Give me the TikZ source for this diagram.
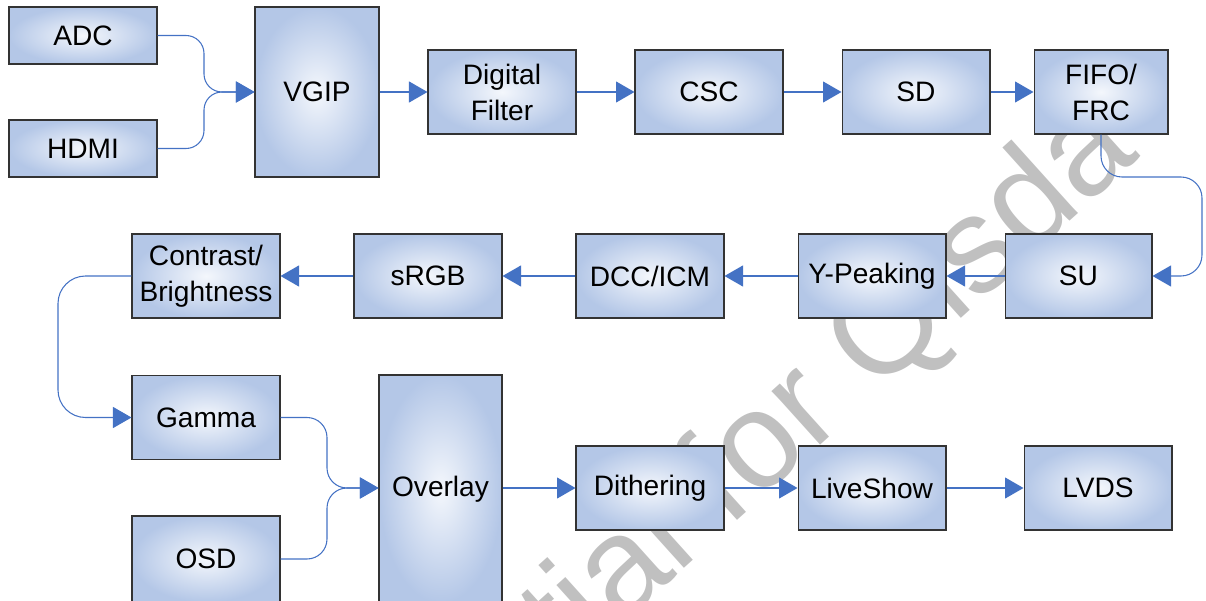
\documentclass[tikz,border=0pt]{standalone}
\usepackage{fontspec}
\setmainfont{Liberation Sans}
\usetikzlibrary{arrows.meta}
\definecolor{boxedge}{RGB}{180,199,231}
\definecolor{boxmid}{RGB}{244,247,252}
\definecolor{linkblue}{RGB}{68,114,196}
\definecolor{stampgray}{RGB}{192,192,192}
\tikzset{
  blk/.style={draw=black!80, line width=0.6pt, shading=radial, inner color=boxmid, outer color=boxedge,
    minimum width=2.96cm, minimum height=1.68cm, inner sep=0pt, align=center,
    font=\fontsize{16}{20.5}\selectfont},
  link/.style={draw=linkblue, line width=0.6pt, -{Triangle[length=0.37cm,width=0.42cm]}},
  stamp/.style={text=stampgray, rotate=42, inner sep=0pt, font=\fontsize{78}{78}\selectfont}
}

\begin{document}
\begin{tikzpicture}[x=0.02cm, y=-0.02cm]
			%%%%% START %%%%%
			\useasboundingbox (0,0) rectangle (1206,601);
			
			\begin{scope}
				\clip (0,0) rectangle (1206,601);
				\node[stamp, anchor=base east] (stamp) at (1142,156) {tial for Qisda};
			\end{scope}
			
			\node[blk, minimum height=1.14cm] (adc) at (83,35.5) {ADC};
			\node[blk, minimum height=1.14cm] (hdmi) at (83,148.5) {HDMI};
			\node[blk, minimum width=2.48cm, minimum height=3.4cm] (vgip) at (317,92) {VGIP};
			\node[blk] (dfilter) at (502,92) {Digital\\Filter};
			\node[blk] (csc) at (709,92) {CSC};
			\node[blk] (sd) at (916,92) {SD};
			\node[blk, minimum width=2.68cm] (fifo) at (1101,92) {FIFO/\\FRC};
			
			\node[blk] (contrast) at (206,276) {Contrast/\\Brightness};
			\node[blk] (srgb) at (428,276) {sRGB};
			\node[blk] (dcc) at (650,276) {DCC/ICM};
			\node[blk] (ypeak) at (872,276) {Y-Peaking};
			\node[blk, minimum width=2.94cm] (su) at (1078.5,276) {SU};
			
			\node[blk] (gamma) at (206,417.5) {Gamma};
			\node[blk, minimum height=1.72cm] (osd) at (206,559) {OSD};
			\node[blk, minimum width=2.46cm, minimum height=4.56cm] (overlay) at (440.5,489) {Overlay};
			\node[blk] (dither) at (650,488) {Dithering};
			\node[blk] (liveshow) at (872,488) {LiveShow};
			\node[blk] (lvds) at (1098,488) {LVDS};
			
			\coordinate (jin) at (204,92);
			\coordinate (fturn) at (1202,177);
			\coordinate (cturn) at (58,346);
			\coordinate (jmix) at (327,488);
			
			\draw[link, rounded corners=0.36cm] (adc.east) -| (jin) -- (vgip.west);
			\draw[link, rounded corners=0.36cm] (hdmi.east) -| (jin) -- (vgip.west);
			\draw[link] (vgip) -- (dfilter);
			\draw[link] (dfilter) -- (csc);
			\draw[link] (csc) -- (sd);
			\draw[link] (sd) -- (fifo);
			\draw[link, rounded corners=0.42cm] (fifo.south) |- (fturn) |- (su.east);
			
			\draw[link] (su) -- (ypeak);
			\draw[link] (ypeak) -- (dcc);
			\draw[link] (dcc) -- (srgb);
			\draw[link] (srgb) -- (contrast);
			\draw[link, rounded corners=0.55cm] (contrast.west) -| (cturn) |- (gamma.west);
			
			\draw[link, rounded corners=0.4cm] (gamma.east) -| (jmix) -- (overlay.west |- jmix);
			\draw[link, rounded corners=0.4cm] (osd.east) -| (jmix) -- (overlay.west |- jmix);
			\draw[link] (overlay.east |- dither) -- (dither);
			\draw[link] (dither) -- (liveshow);
			\draw[link] (liveshow) -- (lvds);
			
			%%%%% END %%%%%
\end{tikzpicture}
\end{document}
